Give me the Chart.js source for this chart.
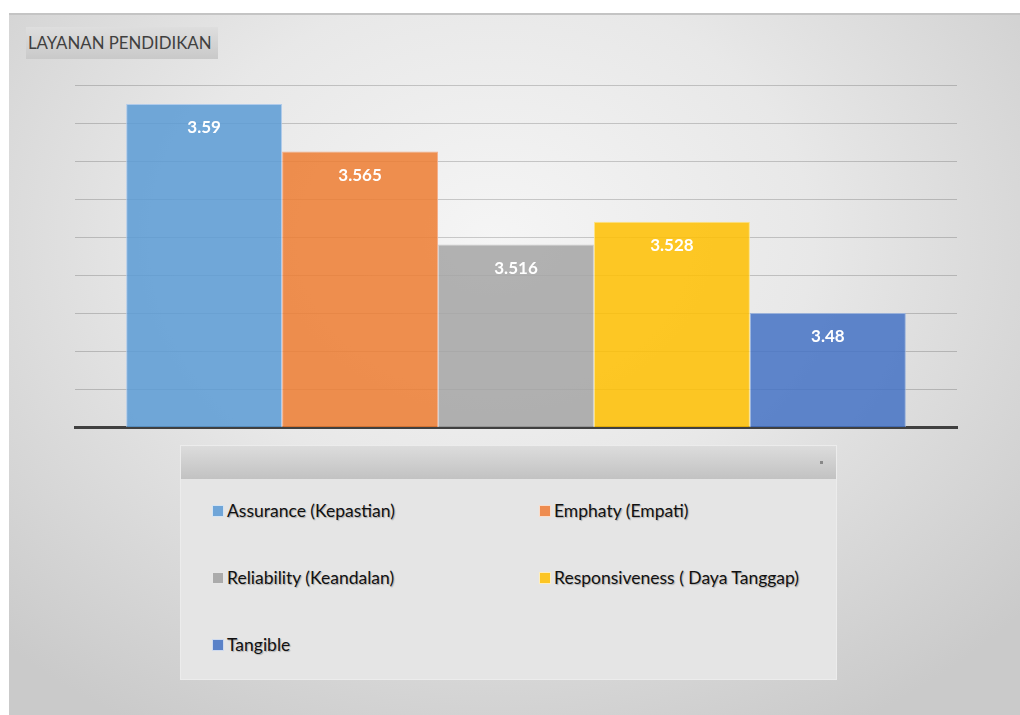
<!DOCTYPE html>
<html>
<head>
<meta charset="utf-8">
<script src="https://cdn.jsdelivr.net/npm/chart.js@4"></script>
<style>
	html, body { margin: 0; padding: 0; background: #fff; }
	#wrap { position: relative; width: 1020px; height: 715px; overflow: hidden; font-family: Lato, sans-serif; }
	#panel {
		position: absolute; left: 9px; top: 13px; width: 1011px; height: 702px;
		border-top: 2px solid #c4c4c4;
		background: radial-gradient(ellipse 70% 80% at 48% 32%, #f5f5f5 0%, #e8e8e8 45%, #cacaca 100%);
	}
	#title {
		position: absolute; left: 26px; top: 27px; width: 192px; height: 32px;
		background: linear-gradient(#dedede, #c9c9c9);
		color: #404040; font-size: 16.8px; line-height: 32px; padding-left: 2px; box-sizing: border-box;
	}
	#legendBox {
		position: absolute; left: 180px; top: 445px; width: 657px; height: 235px;
		background: #e5e5e5; border: 1px solid #ececec; box-sizing: border-box;
	}
	#legendHead {
		position: absolute; left: 0; top: 0; width: 100%; height: 33px;
		background: linear-gradient(#dcdcdc, #c2c2c2);
	}
	#legendHead span { position: absolute; right: 13px; top: 15px; width: 3px; height: 3px; background: #888; }
	.item { position: absolute; font-size: 17.5px; color: #111; text-shadow: 1px 1px 1px rgba(0,0,0,0.25); white-space: nowrap; }
	.item i { display: inline-block; width: 10px; height: 10px; margin-right: 3px; vertical-align: 0px; border: 1px solid rgba(255,255,255,0.7); }
	canvas { position: absolute; left: 0; top: 0; }
</style>
</head>
<body>
<div id="wrap">
	<div id="panel"></div>
	<div id="title">LAYANAN PENDIDIKAN</div>
	<canvas id="chart1" width="1020" height="715"></canvas>
	<div id="legendBox"><div id="legendHead"><span></span></div></div>
</div>
<script>
const seriesNames = [
	'Assurance (Kepastian)',
	'Emphaty (Empati)',
	'Reliability (Keandalan)',
	'Responsiveness ( Daya Tanggap)',
	'Tangible',
]
const seriesValues = [3.59, 3.565, 3.516, 3.528, 3.48]
const valueLabels = ['3.59', '3.565', '3.516', '3.528', '3.48']
const yTicks = [3.42, 3.44, 3.46, 3.48, 3.5, 3.52, 3.54, 3.56, 3.58, 3.6]

const colors = {
	fills: [
		'rgba(91, 155, 213, 0.85)',
		'rgba(237, 125, 49, 0.85)',
		'rgba(165, 165, 165, 0.85)',
		'rgba(255, 192, 0, 0.85)',
		'rgba(68, 114, 196, 0.85)',
	],
	solids: ['#6fa5d8', '#ee8c50', '#ababab', '#fcc524', '#5a82c8'],
	borders: [
		'rgba(170, 200, 235, 0.9)',
		'rgba(245, 170, 130, 0.9)',
		'rgba(205, 205, 205, 0.9)',
		'rgba(255, 225, 120, 0.9)',
		'rgba(150, 175, 220, 0.9)',
	],
}

const valueLabelPlugin = {
	id: 'valueLabels',
	afterDatasetsDraw(chart) {
		const ctx = chart.ctx
		ctx.save()
		ctx.fillStyle = '#fff'
		ctx.font = 'bold 17px Lato'
		ctx.textAlign = 'center'
		ctx.textBaseline = 'middle'
		chart.data.datasets.forEach((ds, i) => {
			const bar = chart.getDatasetMeta(i).data[0]
			ctx.fillText(valueLabels[i], bar.x, bar.y + 24)
		})
		ctx.restore()
	},
}

function printChart() {
	const chartData = {
		labels: [''],
		datasets: seriesNames.map((name, i) => {
			return {
				label: name,
				data: [seriesValues[i]],
				backgroundColor: colors.fills[i],
				borderColor: colors.borders[i],
				borderWidth: 1,
			}
		}),
	}

	const optionsData = {
		responsive: false,
		animation: false,
		categoryPercentage: 0.884,
		barPercentage: 1,
		layout: {
			padding: { left: 75, right: 63, top: 85, bottom: 280 },
		},
		plugins: {
			legend: { display: false },
			tooltip: { enabled: false },
		},
		scales: {
			x: {
				grid: { display: false },
				ticks: { display: false },
				border: { color: '#404040', width: 3 },
			},
			y: {
				min: 3.42,
				max: 3.6,
				afterBuildTicks: axis => {
					axis.ticks = yTicks.map(v => ({ value: v }))
				},
				ticks: { display: false },
				grid: { color: 'rgba(0, 0, 0, 0.18)', drawTicks: false },
				border: { display: false },
			},
		},
	}

	new Chart('chart1', { type: 'bar', data: chartData, options: optionsData, plugins: [valueLabelPlugin] })
}

function printLegend() {
	const box = document.getElementById('legendBox')
	const colX = [31, 358]
	const rowY = [54, 121, 188]
	seriesNames.forEach((name, i) => {
		const item = document.createElement('div')
		item.className = 'item'
		item.style.left = colX[i % 2] + 'px'
		item.style.top = rowY[Math.floor(i / 2)] + 'px'
		item.innerHTML = '<i style="background:' + colors.solids[i] + '"></i>' + name
		box.appendChild(item)
	})
}

printChart()
printLegend()
</script>
</body>
</html>
